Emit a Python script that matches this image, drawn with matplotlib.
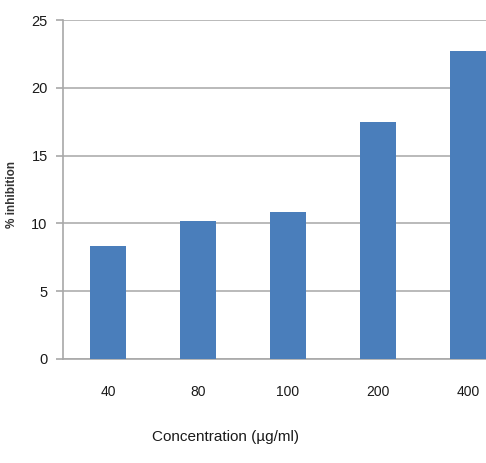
import matplotlib
matplotlib.use("Agg")
import matplotlib.pyplot as plt

categories = ["40", "80", "100", "200", "400"]
inhibition = [8.3, 10.15, 10.85, 17.5, 22.7]
yticks = [0, 5, 10, 15, 20, 25]

plt.rcParams["font.family"] = ["Liberation Sans", "DejaVu Sans"]

fig = plt.figure(figsize=(4.86, 4.63), dpi=100)
ax = fig.add_axes([63/486, 1 - 359/463, 450/486, (359 - 20)/463])

x = range(len(categories))
ax.bar(x, inhibition, width=0.39, color="#4A7EBB", zorder=3)
ax.set_xlim(-0.5, len(categories) - 0.5)
ax.set_ylim(0, 25)
ax.set_yticks(yticks)
ax.set_yticklabels([str(v) for v in yticks], fontsize=10.5, color="#1a1a1a")
ax.set_xticks(list(x))
ax.set_xticklabels(categories, fontsize=10, color="#1a1a1a")
ax.tick_params(axis="x", length=0, pad=19)
ax.tick_params(axis="y", length=5, color="#a8a8a8", width=1.2, pad=6)
ax.yaxis.grid(True, color="#b4b4b4", linewidth=1.3, zorder=0)
for s in ["top", "right"]:
    ax.spines[s].set_visible(False)
for s in ["left", "bottom"]:
    ax.spines[s].set_color("#a8a8a8")
    ax.spines[s].set_linewidth(1.2)

fig.text(225/486, 1 - 437/463, "Concentration (\u00b5g/ml)", ha="center", va="center",
         fontsize=11, color="#1a1a1a")
fig.text(12/486, 1 - 194/463, "% inhibition", ha="center", va="center", rotation=90,
         fontsize=8.5, fontweight="bold", color="#333333")

fig.savefig("out.png", dpi=100)
